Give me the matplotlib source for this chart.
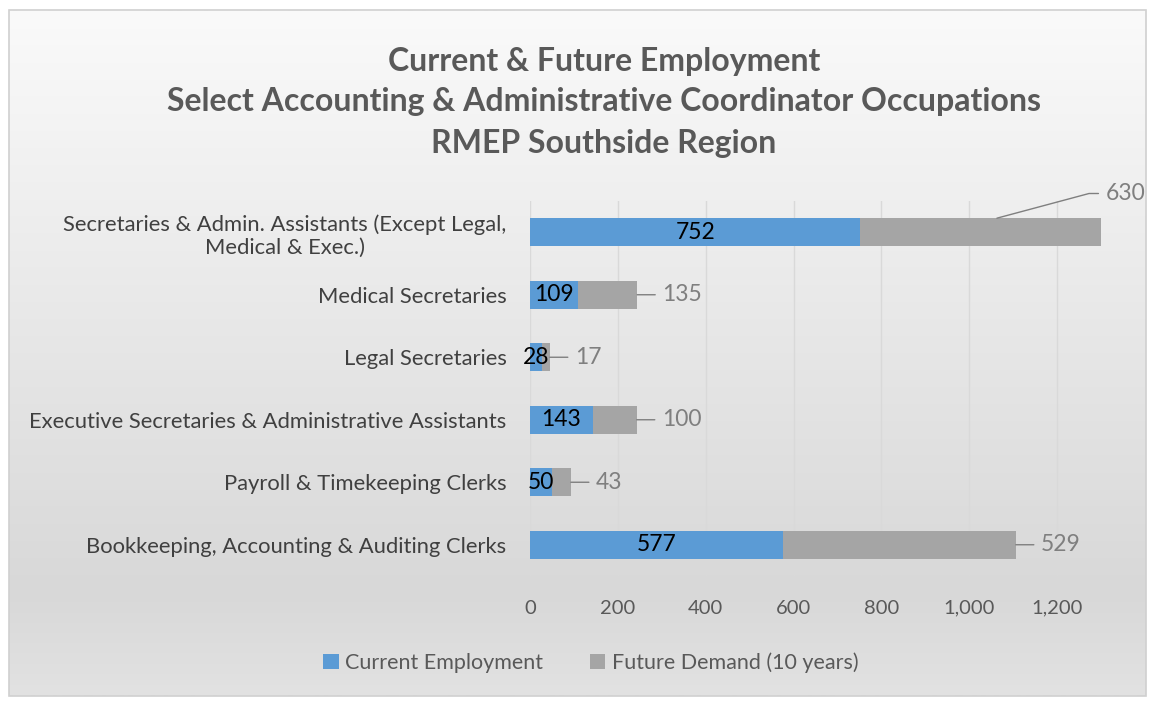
import matplotlib.pyplot as plt
import numpy as np
from matplotlib.patches import Rectangle
from matplotlib.colors import LinearSegmentedColormap

plt.rcParams['font.family'] = ['Lato', 'DejaVu Sans']

# data
occupations = ["Secretaries & Admin. Assistants (Except Legal,\nMedical & Exec.)",
               "Medical Secretaries",
               "Legal Secretaries",
               "Executive Secretaries & Administrative Assistants",
               "Payroll & Timekeeping Clerks",
               "Bookkeeping, Accounting & Auditing Clerks"]
current = [752, 109, 28, 143, 50, 577]
future = [630, 135, 17, 100, 43, 529]
xticks = [0, 200, 400, 600, 800, 1000, 1200]

blue = "#5b9bd5"
grey = "#a5a5a5"

W, H = 1153, 702
fig = plt.figure(figsize=(W / 100, H / 100), dpi=100)
fig.patch.set_facecolor("white")

# gradient background of the chart area
bg = fig.add_axes([9 / W, 1 - 696 / H, 1137 / W, 686 / H], zorder=0)
cmap = LinearSegmentedColormap.from_list(
    "bg", [(0, "#fafafa"), (0.85, "#d8d8d8"), (1.0, "#e2e2e2")])
grad = np.linspace(0, 1, 256).reshape(-1, 1)
bg.imshow(grad, aspect="auto", cmap=cmap, extent=[0, 1, 0, 1], origin="upper")
bg.set_axis_off()
fig.patches.append(Rectangle((9 / W, 1 - 696 / H), 1137 / W, 686 / H,
                             transform=fig.transFigure, fill=False,
                             edgecolor="#d0d0d0", linewidth=1.2, zorder=5))

ax = fig.add_axes([530 / W, 1 - 576 / H, 571 / W, 375 / H], zorder=2)
ax.set_facecolor("none")

y = np.arange(len(occupations))
b1 = ax.barh(y, current, height=0.45, color=blue, zorder=3)
b2 = ax.barh(y, future, left=current, height=0.45, color=grey, zorder=3)

ax.set_xlim(0, 1300)
ax.set_ylim(len(occupations) - 0.5, -0.5)
ax.set_xticks(xticks)
ax.set_xticklabels([f"{v:,}" for v in xticks])
ax.set_yticks(y)
ax.set_yticklabels(occupations, multialignment="center")
ax.tick_params(axis="x", length=0, pad=17, labelsize=14.5, labelcolor="#595959")
ax.tick_params(axis="y", length=0, pad=17, labelsize=15.8, labelcolor="#404040")
ax.grid(axis="x", color="#d9d9d9", linewidth=1, zorder=0)
for s in ax.spines.values():
    s.set_visible(False)

ax.bar_label(b1, labels=[str(v) for v in current], label_type="center",
             fontsize=16.5, color="black")

lab_grey = "#7f7f7f"
for i, (c, f) in enumerate(zip(current, future)):
    if c + f > 1300:
        # bar is clipped: label sits beyond the axis with a bent leader line
        ax.annotate(str(f), xy=(1063, i - 0.225), xytext=(1310, i - 0.62),
                    textcoords="data", ha="left", va="center", fontsize=16.5,
                    color=lab_grey, annotation_clip=False,
                    arrowprops=dict(arrowstyle="-", color=lab_grey, lw=1,
                                    shrinkA=3, shrinkB=0,
                                    connectionstyle="angle,angleA=0,angleB=15,rad=0"))
    else:
        ax.annotate(str(f), xy=(c + f, i), xytext=(18, 0),
                    textcoords="offset points", ha="left", va="center",
                    fontsize=16.5, color=lab_grey,
                    arrowprops=dict(arrowstyle="-", color=lab_grey, lw=1,
                                    shrinkA=3, shrinkB=0))

fig.text(604 / W, 1 - 102 / H,
         "Current & Future Employment\nSelect Accounting & Administrative Coordinator Occupations\nRMEP Southside Region",
         ha="center", va="center", fontsize=23, fontweight="bold",
         color="#595959", linespacing=1.5)

leg = fig.legend([b1, b2], ["Current Employment", "Future Demand (10 years)"],
                 loc="center", bbox_to_anchor=(591 / W, 1 - 663 / H), ncol=2,
                 frameon=False, fontsize=15.5, handlelength=0.7, handleheight=0.7,
                 handletextpad=0.3, columnspacing=2.2)
for t in leg.get_texts():
    t.set_color("#595959")

fig.savefig("out.png", dpi=100)
